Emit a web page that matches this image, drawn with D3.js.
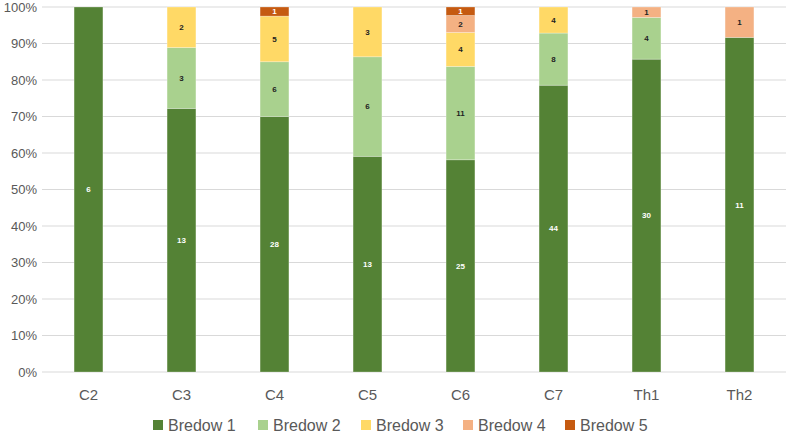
<!DOCTYPE html>
<html>
<head>
<meta charset="utf-8">
<script src="https://cdn.jsdelivr.net/npm/d3@7"></script>
<style>
  body { margin: 0; background: #fff; }
  svg { display: block; font-family: "Liberation Sans", "DejaVu Sans", sans-serif; }
</style>
</head>
<body>
<svg id="chart" width="790" height="435"></svg>
<script>
// chart data
const categories = ['C2', 'C3', 'C4', 'C5', 'C6', 'C7', 'Th1', 'Th2'];
const seriesNames = ['Bredow 1', 'Bredow 2', 'Bredow 3', 'Bredow 4', 'Bredow 5'];
const bredow1 = [6, 13, 28, 13, 25, 44, 30, 11];
const bredow2 = [0, 3, 6, 6, 11, 8, 4, 0];
const bredow3 = [0, 2, 5, 3, 4, 4, 0, 0];
const bredow4 = [0, 0, 0, 0, 2, 0, 1, 1];
const bredow5 = [0, 0, 1, 0, 1, 0, 0, 0];
const yTicks = [0, 0.1, 0.2, 0.3, 0.4, 0.5, 0.6, 0.7, 0.8, 0.9, 1];

const colors = ['#548235', '#A9D18E', '#FFD966', '#F4B183', '#C55A11'];
const labelColors = ['#fff', '#222', '#222', '#222', '#fff'];

const svg = d3.select('#chart');
const margin = { top: 7, right: 4, bottom: 63, left: 42 };
const width = 790 - margin.left - margin.right;
const height = 435 - margin.top - margin.bottom;

const rows = categories.map((c, i) => ({
    cat: c,
    'Bredow 1': bredow1[i],
    'Bredow 2': bredow2[i],
    'Bredow 3': bredow3[i],
    'Bredow 4': bredow4[i],
    'Bredow 5': bredow5[i]
}));

const stacked = d3.stack()
    .keys(seriesNames)
    .offset(d3.stackOffsetExpand)(rows);

const x = d3.scaleBand()
    .domain(categories)
    .range([0, width])
    .paddingInner(0.69)
    .paddingOuter(0.345);

const y = d3.scaleLinear().domain([0, 1]).range([height, 0]);

const g = svg.append('g').attr('transform', `translate(${margin.left},${margin.top})`);

// gridlines
g.append('g')
    .selectAll('line')
    .data(yTicks)
    .join('line')
    .attr('x1', 0)
    .attr('x2', width)
    .attr('y1', d => y(d))
    .attr('y2', d => y(d))
    .style('stroke', '#d9d9d9')
    .style('stroke-width', 1);

// y axis labels
g.append('g')
    .selectAll('text')
    .data(yTicks)
    .join('text')
    .attr('x', -5)
    .attr('y', d => y(d))
    .attr('dy', '0.35em')
    .attr('text-anchor', 'end')
    .style('font-size', '13px')
    .style('fill', '#595959')
    .text(d => d3.format('.0%')(d));

// bars
const layers = g.append('g')
    .selectAll('g')
    .data(stacked)
    .join('g')
    .style('fill', (d, i) => colors[i]);

layers.selectAll('rect')
    .data(d => d.filter(p => p[1] - p[0] > 0))
    .join('rect')
    .attr('x', d => x(d.data.cat))
    .attr('y', d => y(d[1]))
    .attr('width', x.bandwidth())
    .attr('height', d => y(d[0]) - y(d[1]))
    .style('stroke', 'rgba(255,255,255,0.35)')
    .style('stroke-width', 0.75);

// data labels
stacked.forEach((layer, si) => {
    g.append('g')
        .selectAll('text')
        .data(layer.filter(p => p[1] - p[0] > 0))
        .join('text')
        .attr('x', d => x(d.data.cat) + x.bandwidth() / 2)
        .attr('y', d => (y(d[0]) + y(d[1])) / 2)
        .attr('dy', '0.35em')
        .attr('text-anchor', 'middle')
        .style('font-size', '8px')
        .style('font-weight', 'bold')
        .style('fill', labelColors[si])
        .text(d => d.data[layer.key]);
});

// x axis labels
g.append('g')
    .selectAll('text')
    .data(categories)
    .join('text')
    .attr('x', d => x(d) + x.bandwidth() / 2)
    .attr('y', height + 23)
    .attr('dy', '0.35em')
    .attr('text-anchor', 'middle')
    .style('font-size', '15px')
    .style('fill', '#595959')
    .text(d => d);

// legend
const legendX = [153, 258, 361, 463, 565];
const legend = svg.append('g').attr('transform', 'translate(0,425)');
seriesNames.forEach((name, i) => {
    const item = legend.append('g').attr('transform', `translate(${legendX[i]},0)`);
    item.append('rect')
        .attr('x', 0)
        .attr('y', -5)
        .attr('width', 10)
        .attr('height', 10)
        .style('fill', colors[i]);
    item.append('text')
        .attr('x', 15)
        .attr('y', 0)
        .attr('dy', '0.35em')
        .style('font-size', '16px')
        .style('fill', '#595959')
        .text(name);
});
</script>
</body>
</html>
